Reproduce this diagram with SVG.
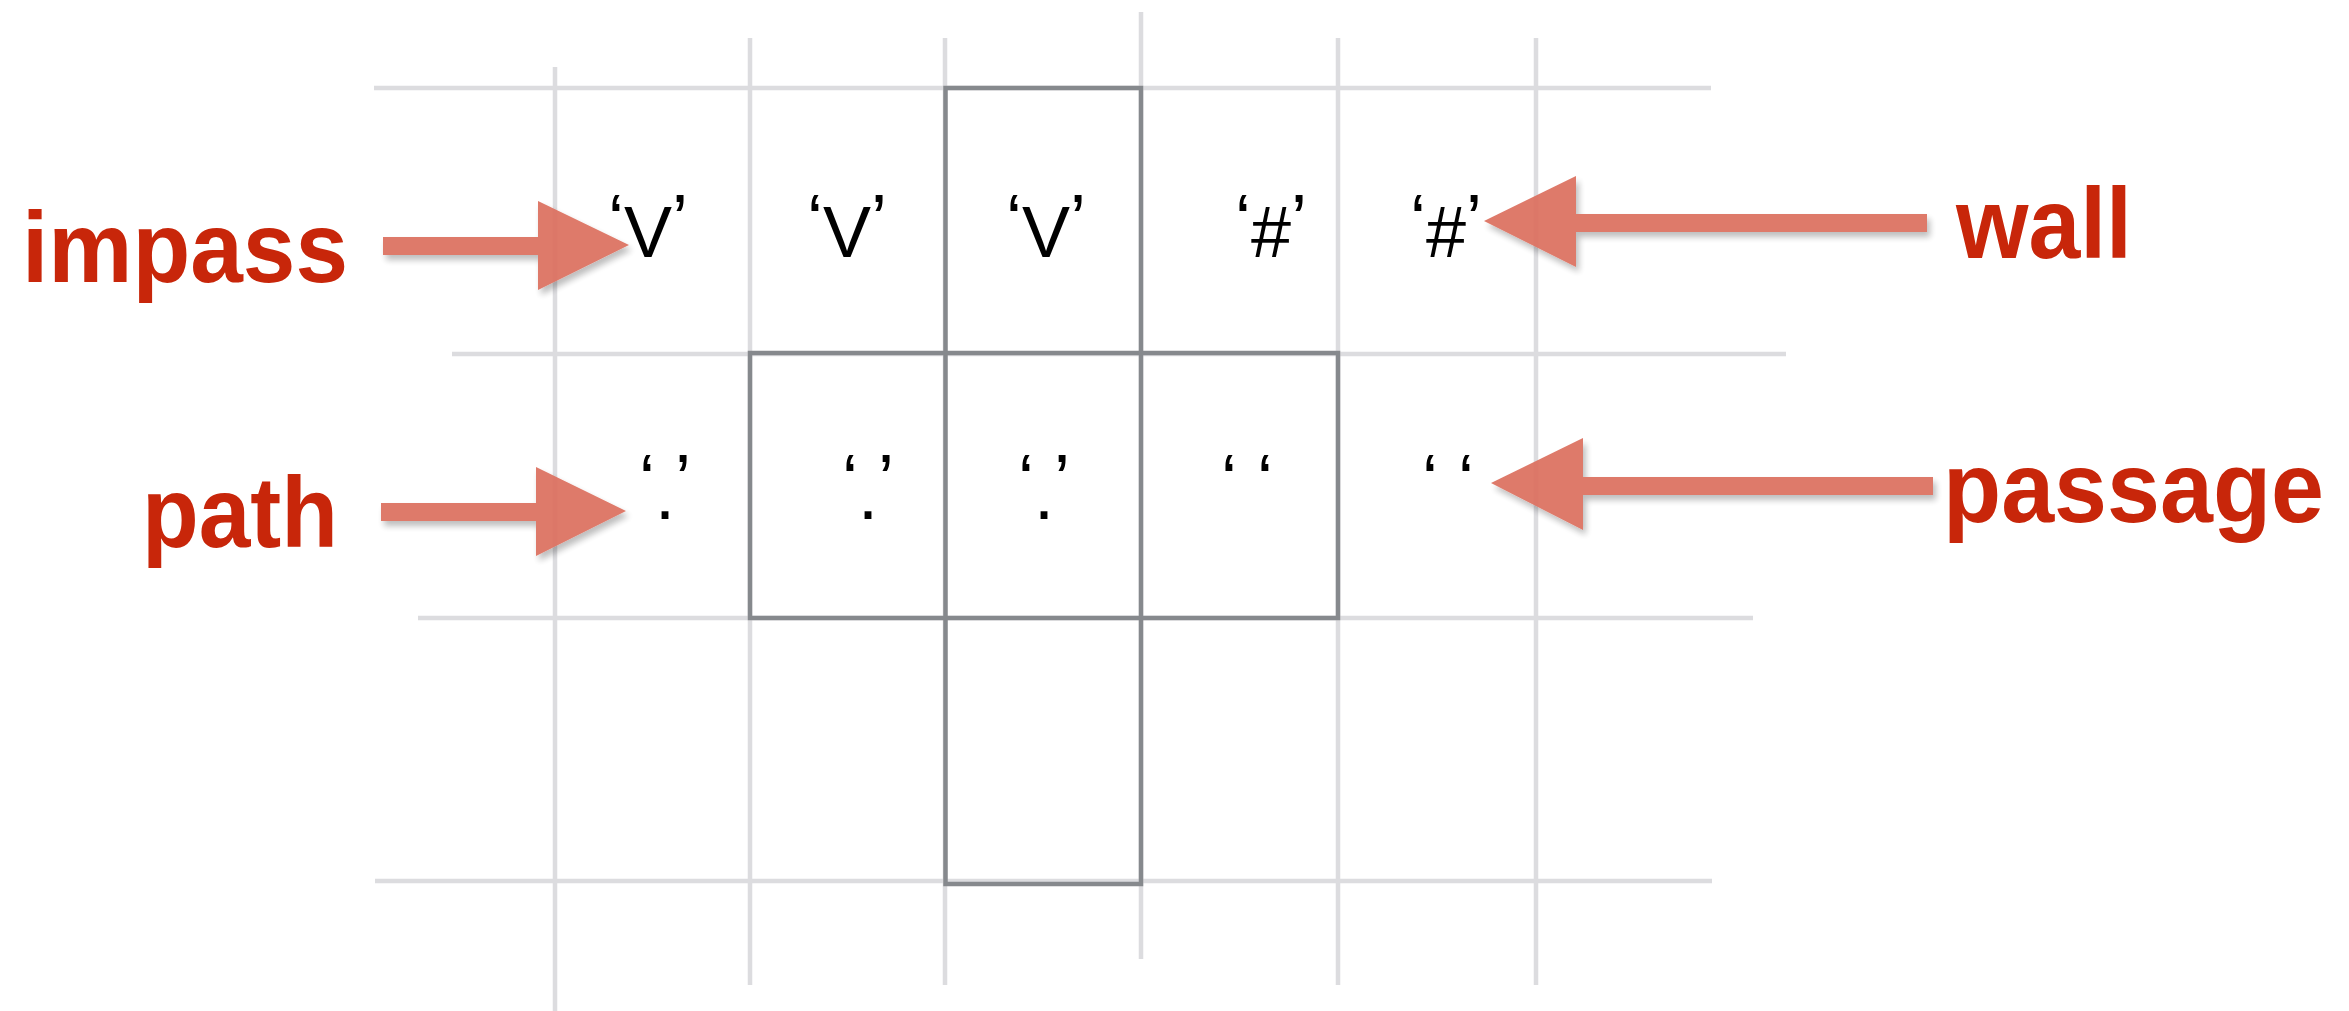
<svg xmlns="http://www.w3.org/2000/svg" width="2349" height="1011" viewBox="0 0 2349 1011">
  <defs>
    <filter id="shadow" x="-20%" y="-30%" width="140%" height="160%">
      <feDropShadow dx="3" dy="5" stdDeviation="3" flood-color="#000" flood-opacity="0.28"/>
    </filter>
  </defs>
  <style>
    .grid { stroke: #dcdcdf; stroke-width: 4.5; fill: none; }
    .box { stroke: #86898d; stroke-width: 4.5; fill: none; }
    .cell { font-family: "Liberation Sans", Arial, sans-serif; font-size: 72px; fill: #000; text-anchor: middle; }
    .label { font-family: "Liberation Sans", Arial, sans-serif; font-weight: bold; font-size: 100px; fill: #c8260a; }
    .arrow { fill: #dc6f5e; filter: url(#shadow); opacity: 0.93; }
  </style>
  <rect width="2349" height="1011" fill="#fff"/>

  <g id="grid">
    <line class="grid" x1="555" y1="67" x2="555" y2="1011"/>
    <line class="grid" x1="750" y1="38" x2="750" y2="985"/>
    <line class="grid" x1="945" y1="38" x2="945" y2="985"/>
    <line class="grid" x1="1141" y1="12" x2="1141" y2="959"/>
    <line class="grid" x1="1338" y1="38" x2="1338" y2="985"/>
    <line class="grid" x1="1536" y1="38" x2="1536" y2="985"/>
    <line class="grid" x1="374" y1="88" x2="1711" y2="88"/>
    <line class="grid" x1="452" y1="354" x2="1786" y2="354"/>
    <line class="grid" x1="418" y1="618" x2="1753" y2="618"/>
    <line class="grid" x1="375" y1="881" x2="1712" y2="881"/>
  </g>

  <g id="highlight">
    <rect class="box" x="945.5" y="88" width="195.5" height="796"/>
    <rect class="box" x="750" y="353" width="588" height="265"/>
  </g>

  <g id="connectors">
    <path class="arrow" d="M383,237 H538 V201 L629,245 L538,290 V255 H383 Z"/>
    <path class="arrow" d="M381,503 H536 V467 L626,511 L536,556 V521 H381 Z"/>
    <path class="arrow" d="M1927,214 H1576 V176 L1484,221 L1576,267 V232 H1927 Z"/>
    <path class="arrow" d="M1933,477 H1583 V438 L1491,483 L1583,530 V495 H1933 Z"/>
  </g>

  <g id="cell-r1c1"><text class="cell" x="648" y="257"><tspan dy="-12">‘</tspan><tspan dy="12">V</tspan><tspan dy="-12">’</tspan></text></g>
  <g id="cell-r1c2"><text class="cell" x="847" y="257"><tspan dy="-12">‘</tspan><tspan dy="12">V</tspan><tspan dy="-12">’</tspan></text></g>
  <g id="cell-r1c3"><text class="cell" x="1046" y="257"><tspan dy="-12">‘</tspan><tspan dy="12">V</tspan><tspan dy="-12">’</tspan></text></g>
  <g id="cell-r1c4"><text class="cell" x="1271" y="257"><tspan dy="-12">‘</tspan><tspan dy="12">#</tspan><tspan dy="-12">’</tspan></text></g>
  <g id="cell-r1c5"><text class="cell" x="1446" y="257"><tspan dy="-12">‘</tspan><tspan dy="12">#</tspan><tspan dy="-12">’</tspan></text></g>

  <g id="cell-r2c1"><text class="cell" x="665" y="519"><tspan dy="-14">‘</tspan><tspan dy="14">.</tspan><tspan dy="-14">’</tspan></text></g>
  <g id="cell-r2c2"><text class="cell" x="868" y="519"><tspan dy="-14">‘</tspan><tspan dy="14">.</tspan><tspan dy="-14">’</tspan></text></g>
  <g id="cell-r2c3"><text class="cell" x="1044" y="519"><tspan dy="-14">‘</tspan><tspan dy="14">.</tspan><tspan dy="-14">’</tspan></text></g>
  <g id="cell-r2c4"><text class="cell" x="1247" y="505" xml:space="preserve">‘ ‘</text></g>
  <g id="cell-r2c5"><text class="cell" x="1448" y="505" xml:space="preserve">‘ ‘</text></g>

  <g id="label-impass"><text class="label" x="22" y="282" textLength="326" lengthAdjust="spacingAndGlyphs">impass</text></g>
  <g id="label-path"><text class="label" x="142" y="547" textLength="196" lengthAdjust="spacingAndGlyphs">path</text></g>
  <g id="label-wall"><text class="label" x="1956" y="258" textLength="176" lengthAdjust="spacingAndGlyphs">wall</text></g>
  <g id="label-passage"><text class="label" x="1943" y="522" textLength="381" lengthAdjust="spacingAndGlyphs">passage</text></g>
</svg>
